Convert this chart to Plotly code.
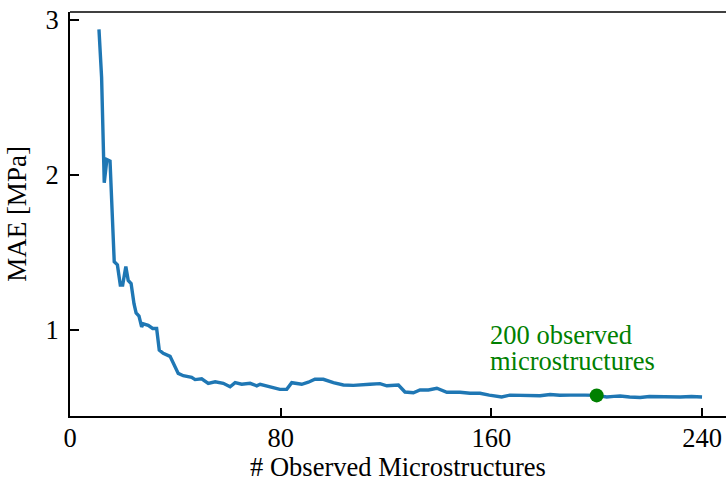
import plotly.graph_objects as go

# Data
obs_x = [11, 12, 13, 14, 15.2, 15.8, 16.8, 18, 19.1, 20, 21.2, 22.1, 23.2, 24.3, 25.1, 26.2,
         27.2, 27.8, 29.7, 31.4, 32.9, 33.9, 35.4, 38, 39.2, 41.1, 43, 46.2, 47.5, 50, 52.5,
         55.1, 58.2, 60.8, 62.7, 65.2, 68.4, 70.9, 72.2, 75.9, 79.7, 82.3, 84.2, 88, 90.5, 93,
         96.2, 100, 103.8, 107.6, 111.4, 113.9, 117.7, 120.3, 124.7, 127.2, 130.4, 132.9,
         136.1, 139.3, 143.1, 148.1, 151.9, 155.7, 159.2, 163.9, 167.1, 170.5, 174.7, 178.5,
         182.3, 186, 189.9, 193, 195.6, 200, 203.8, 206.5, 208.9, 212.5, 216.5, 220, 224.1,
         228, 231.7, 236, 240]
mae = [2.94, 2.63, 1.95, 2.10, 2.09, 1.84, 1.44, 1.42, 1.29, 1.29, 1.41, 1.32, 1.30, 1.17,
       1.11, 1.09, 1.02, 1.04, 1.03, 1.01, 1.01, 0.87, 0.85, 0.83, 0.79, 0.72, 0.705, 0.695,
       0.68, 0.685, 0.656, 0.666, 0.656, 0.634, 0.66, 0.65, 0.656, 0.64, 0.65, 0.634, 0.617,
       0.617, 0.66, 0.65, 0.663, 0.682, 0.682, 0.66, 0.645, 0.643, 0.65, 0.65, 0.654, 0.64,
       0.645, 0.60, 0.595, 0.613, 0.613, 0.624, 0.598, 0.598, 0.592, 0.592, 0.58, 0.568, 0.58,
       0.578, 0.58, 0.576, 0.584, 0.579, 0.58, 0.577, 0.58, 0.578, 0.568, 0.572, 0.574, 0.568,
       0.565, 0.571, 0.57, 0.566, 0.568, 0.571, 0.568]

highlight_x = [200]
highlight_y = [0.578]
highlight_lines = ["200 observed", "microstructures"]
highlight_text_y = [0.968, 0.80]

x_ticks = [0, 80, 160, 240]
y_ticks = [1, 2, 3]

FONT = "Liberation Serif, Times New Roman, serif"
FS = 26.5

fig = go.Figure()
fig.add_trace(go.Scatter(x=obs_x, y=mae, mode="lines",
                         line=dict(color="#1f77b4", width=3.4), showlegend=False))
fig.add_trace(go.Scatter(x=highlight_x, y=highlight_y, mode="markers",
                         marker=dict(color="#008000", size=14), showlegend=False))

for line_text, ty in zip(highlight_lines, highlight_text_y):
    fig.add_annotation(x=158.6, y=ty, text=line_text, showarrow=False,
                       xanchor="left", yanchor="middle", align="left",
                       font=dict(family=FONT, size=FS, color="#008000"))

# top frame line (right spine is off-canvas in reference)
fig.add_shape(type="line", xref="paper", yref="paper", x0=0, x1=1, y0=1, y1=1,
              line=dict(color="black", width=1.5))

fig.update_xaxes(range=[0, 249.1], tickvals=x_ticks, ticks="inside", ticklen=8, tickwidth=2,
                 tickcolor="black", showline=True, linecolor="black", linewidth=2,
                 showgrid=False, zeroline=False, ticklabelstandoff=-3, automargin=False,
                 title=dict(text="# Observed Microstructures", standoff=8,
                            font=dict(family=FONT, size=FS, color="black")),
                 tickfont=dict(family=FONT, size=FS, color="black"))
fig.update_yaxes(range=[0.4452, 3.0516], tickvals=y_ticks, ticks="inside", ticklen=9, tickwidth=2,
                 tickcolor="black", showline=True, linecolor="black", linewidth=1.8,
                 showgrid=False, zeroline=False, ticklabelstandoff=4, automargin=False,
                 title=dict(text="MAE [MPa]", standoff=11,
                            font=dict(family=FONT, size=FS + 0.5, color="black")),
                 tickfont=dict(family=FONT, size=FS, color="black"))

fig.update_layout(width=726, height=482, margin=dict(l=70, r=0, t=12, b=66),
                  plot_bgcolor="white", paper_bgcolor="white")

fig.write_html("out.html")
